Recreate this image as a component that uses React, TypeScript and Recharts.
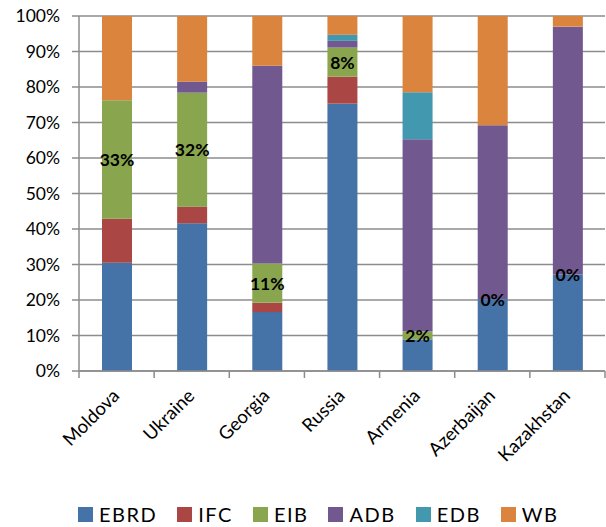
import { BarChart, Bar, XAxis, YAxis, CartesianGrid, Legend, LabelList } from 'recharts'

const countries = ['Moldova', 'Ukraine', 'Georgia', 'Russia', 'Armenia', 'Azerbaijan', 'Kazakhstan']
const ebrd = [30.5, 41.6, 16.6, 75.3, 8.9, 20.2, 27.2]
const ifc = [12.4, 4.7, 2.6, 7.6, 0, 0, 0]
const eib = [33.4, 32.1, 11.1, 8.2, 2.2, 0, 0]
const adb = [0, 3.1, 55.7, 1.9, 54.2, 49.0, 69.8]
const edb = [0, 0, 0, 1.7, 13.2, 0, 0]
const wb = [23.7, 18.5, 14.0, 5.3, 21.5, 30.8, 3.0]
const yTicks = [0, 10, 20, 30, 40, 50, 60, 70, 80, 90, 100]

const series = [
  { key: 'EBRD', color: '#4572A7' },
  { key: 'IFC', color: '#AA4643' },
  { key: 'EIB', color: '#89A54E' },
  { key: 'ADB', color: '#71588F' },
  { key: 'EDB', color: '#4198AF' },
  { key: 'WB', color: '#DB843D' },
]

const data = countries.map((c, i) => ({
  name: c,
  EBRD: ebrd[i],
  IFC: ifc[i],
  EIB: eib[i],
  ADB: adb[i],
  EDB: edb[i],
  WB: wb[i],
}))

const font = 'Lato, "Open Sans", sans-serif'
const plotLeft = 79
const plotRight = 605
const band = (plotRight - plotLeft) / countries.length

function CountryTick({ x, y, payload, index }: any) {
  const tx = x + 4
  const ty = y + 18
  return (
    <g>
      <line x1={x - band / 2} x2={x - band / 2} y1={y - 8} y2={y - 1} stroke="#8c8c8c" strokeWidth={1.5} />
      {index === countries.length - 1 && (
        <line x1={x + band / 2} x2={x + band / 2} y1={y - 8} y2={y - 1} stroke="#8c8c8c" strokeWidth={1.5} />
      )}
      <text
        x={tx}
        y={ty}
        transform={`rotate(-45 ${tx} ${ty})`}
        textAnchor="end"
        fontSize={18.5}
        fontFamily={font}
        fill="#000"
      >
        {payload.value}
      </text>
    </g>
  )
}

function pctText(cx: number, cy: number, v: number) {
  return (
    <text
      x={cx}
      y={cy}
      textAnchor="middle"
      dominantBaseline="central"
      fontSize={17.5}
      fontWeight="bold"
      fontFamily={font}
      fill="#000"
    >
      {Math.round(v)}%
    </text>
  )
}

function PctLabel({ x, y, width, height, value }: any) {
  if (!value) return null
  return pctText(x + width / 2, y + height / 2, value)
}

// zero EIB shares have no segment, so their label sits at the bottom of the ADB segment
function ZeroLabel({ x, y, width, height }: any) {
  const idx = Math.round((x + width / 2 - plotLeft - band / 2) / band)
  if (eib[idx] !== 0) return null
  return pctText(x + width / 2, y + height, eib[idx])
}

function LegendContent() {
  return (
    <div
      style={{
        display: 'flex',
        alignItems: 'center',
        height: 32,
        paddingTop: 6,
        boxSizing: 'border-box',
        paddingLeft: 78,
        fontFamily: font,
        fontSize: 20,
        letterSpacing: 1.5,
      }}
    >
      {series.map((s) => (
        <div key={s.key} style={{ display: 'flex', alignItems: 'center', marginRight: 20 }}>
          <span style={{ display: 'inline-block', width: 15, height: 15, background: s.color, marginRight: 6 }} />
          <span style={{ color: '#000' }}>{s.key}</span>
        </div>
      ))}
    </div>
  )
}

export default function App() {
  return (
    <div style={{ position: 'absolute', left: 0, top: 0, background: '#fff' }}>
      <BarChart
        width={606}
        height={527}
        data={data}
        margin={{ top: 16, right: 606 - plotRight, left: 0, bottom: 0 }}
        barSize={30}
      >
        <CartesianGrid vertical={false} stroke="#8c8c8c" strokeWidth={1.5} />
        <XAxis
          dataKey="name"
          tick={<CountryTick />}
          interval={0}
          height={124}
          stroke="#8c8c8c"
          strokeWidth={1.5}
          tickLine={false}
        />
        <YAxis
          domain={[0, 100]}
          ticks={yTicks}
          tickFormatter={(v) => `${v}%`}
          width={plotLeft}
          stroke="#8c8c8c"
          strokeWidth={1.5}
          tickSize={7}
          tickMargin={12}
          tick={{ fill: '#000', fontSize: 17.5, fontFamily: font }}
          allowDataOverflow
        />
        <Legend verticalAlign="bottom" content={<LegendContent />} />
        {series.map((s) => (
          <Bar key={s.key} dataKey={s.key} stackId="a" fill={s.color} isAnimationActive={false}>
            {s.key === 'EIB' && <LabelList dataKey="EIB" content={<PctLabel />} />}
            {s.key === 'ADB' && <LabelList dataKey="ADB" content={<ZeroLabel />} />}
          </Bar>
        ))}
      </BarChart>
    </div>
  )
}
